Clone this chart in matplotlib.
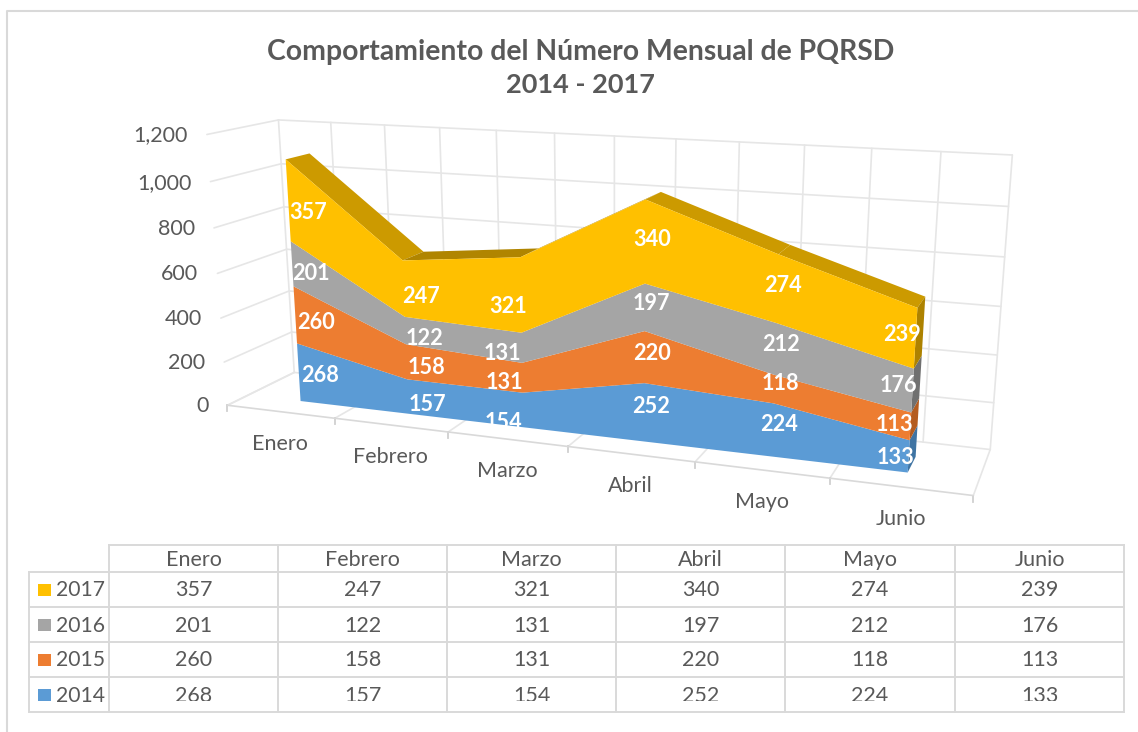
import numpy as np
import matplotlib
matplotlib.use('Agg')
import matplotlib.pyplot as plt
from matplotlib.patches import Polygon, Rectangle

plt.rcParams['font.family'] = ['Lato', 'DejaVu Sans']

months = ['Enero', 'Febrero', 'Marzo', 'Abril', 'Mayo', 'Junio']
years = ['2014', '2015', '2016', '2017']
v2014 = [268, 157, 154, 252, 224, 133]
v2015 = [260, 158, 131, 220, 118, 113]
v2016 = [201, 122, 131, 197, 212, 176]
v2017 = [357, 247, 321, 340, 274, 239]
y_ticks = [0, 200, 400, 600, 800, 1000, 1200]
y_tick_labels = ['0', '200', '400', '600', '800', '1,000', '1,200']

series = [v2014, v2015, v2016, v2017]
colors = ['#5B9BD5', '#ED7D31', '#A5A5A5', '#FFC000']
side_colors = ['#3F74A3', '#B45C20', '#707070', '#AD8200']
top_colors = ['#CC9A00', '#B08500', '#B08500', '#CC9A00', '#CC9A00']
GRID = '#E6E6E6'
TXT = '#595959'
D0, D1 = 0.30, 0.65   # depth of the areas inside the box

# calibration of the 3d view: (category pos, value, depth) -> pixel
world = [(0, 0, 0), (6, 0, 0), (6, 0, 1), (0, 0, 1), (0, 1200, 1), (6, 1200, 1), (0, 1200, 0),
         (.5, 0, D0), (.5, 1086, D0), (5.5, 0, D0), (5.5, 661, D0), (.5, 1086, D1), (5.5, 661, D1)]
pixel = [(228, 405), (973, 497), (990, 450), (294, 373), (277, 120), (1012, 155), (205, 135),
         (300, 400), (287, 160), (908, 472), (917, 307), (312, 153), (926, 296)]


def fit_projection(world, pixel):
    rows = []
    for (x, y, z), (u, v) in zip(world, pixel):
        y = y / 1200
        rows.append([x, y, z, 1, 0, 0, 0, 0, -u * x, -u * y, -u * z, -u])
        rows.append([0, 0, 0, 0, x, y, z, 1, -v * x, -v * y, -v * z, -v])
    return np.linalg.svd(np.array(rows, dtype=float))[2][-1].reshape(3, 4)


P = fit_projection(world, pixel)


def proj(x, y, z):
    h = P @ np.array([x, y / 1200, z, 1.0])
    return h[0] / h[2], h[1] / h[2]


fig = plt.figure(figsize=(11.38, 7.32), dpi=100)
ax = fig.add_axes([0, 0, 1, 1])
ax.set_xlim(0, 1138)
ax.set_ylim(732, 0)
ax.axis('off')


def line3d(a, b, color=GRID, lw=1.2):
    pa, pb = proj(*a), proj(*b)
    ax.plot([pa[0], pb[0]], [pa[1], pb[1]], color=color, lw=lw, solid_capstyle='round', zorder=1)


# frame
ax.plot([7, 7, 1138], [732, 11, 11], color='#D9D9D9', lw=1.5)

# title
ax.text(580.5, 52, 'Comportamiento del Número Mensual de PQRSD', ha='center', va='center',
        fontsize=20.4, fontweight='bold', color=TXT)
ax.text(580.5, 85, '2014 - 2017', ha='center', va='center', fontsize=19.5, fontweight='bold', color=TXT)

# walls
for t in y_ticks:
    line3d((0, t, 0), (0, t, 1))
    line3d((0, t, 1), (6, t, 1))
for k in range(13):
    line3d((k / 2, 0, 1), (k / 2, 1200, 1))
for k in range(7):
    line3d((k, 0, 0), (k, 0, 1))
    px, py = proj(k, 0, 0)
    ax.plot([px, px], [py, py + 6], color='#D0D0D0', lw=1.3, zorder=1)
line3d((0, 0, 0), (6, 0, 0), color='#D9D9D9')

for t, lab in zip(y_ticks, y_tick_labels):
    px, py = proj(0, t, 0)
    ax.text(px - 19, py + 1, lab, ha='right', va='center', fontsize=15.5, color=TXT)
for k, m in enumerate(months):
    px, py = proj(k + .5, 0, 0)
    ax.text(px, py + 32, m, ha='center', va='center', fontsize=15.5, color=TXT)

# stacked areas
xs = [k + .5 for k in range(6)]
stack = np.cumsum(np.array(series), axis=0)
lower = np.vstack([np.zeros(6), stack[:-1]])

for k in range(5):
    face = [proj(xs[k], stack[3][k], D0), proj(xs[k + 1], stack[3][k + 1], D0),
            proj(xs[k + 1], stack[3][k + 1], D1), proj(xs[k], stack[3][k], D1)]
    ax.add_patch(Polygon(face, color=top_colors[k], zorder=2, lw=0))

for s in range(4):
    side = [proj(5.5, lower[s][5], D0), proj(5.5, stack[s][5], D0),
            proj(5.5, stack[s][5], D1), proj(5.5, lower[s][5], D1)]
    ax.add_patch(Polygon(side, color=side_colors[s], zorder=2, lw=0))
    front = [proj(x, v, D0) for x, v in zip(xs, stack[s])]
    front += [proj(x, v, D0) for x, v in zip(xs[::-1], lower[s][::-1])]
    ax.add_patch(Polygon(front, color=colors[s], zorder=3, lw=0))

# data labels, nudged per series / month the way excel placed them
label_dx = [[21, 19, -19, 7, 6, -13],
            [21, 20, -18, 7, 6, -16],
            [19, 19, -19, 7, 6, -14],
            [20, 17, -13, 7, 6, -14]]
label_dy = [[3, 8, 12, -6, -6, 1],
            [7, 6, 5, -4, -6, -2],
            [10, 8, 6, -4, -5, -5],
            [12, 8, 11, -2, -3, -4]]
for s in range(4):
    for k in range(6):
        px, py = proj(xs[k], (stack[s][k] + lower[s][k]) / 2, D0)
        ax.text(px + label_dx[s][k], py + label_dy[s][k], str(series[s][k]), ha='center', va='center',
                fontsize=15.6, fontweight='bold', color='white', zorder=4)

# data table
col_x = [109, 278, 447, 616, 785, 955, 1124]
row_y = [545, 572, 607, 642, 677, 712]
TL = '#D9D9D9'
for x in col_x:
    ax.plot([x, x], [row_y[0], row_y[-1]], color=TL, lw=1.4)
for y in row_y:
    ax.plot([col_x[0], col_x[-1]], [y, y], color=TL, lw=1.4)
for y in row_y[1:]:
    ax.plot([29, col_x[0]], [y, y], color=TL, lw=1.4)
ax.plot([29, 29], [row_y[1], row_y[-1]], color=TL, lw=1.4)

for k, m in enumerate(months):
    ax.text((col_x[k] + col_x[k + 1]) / 2, 559.5, m, ha='center', va='center', fontsize=15.5, color=TXT)
clip = Rectangle((0, 0), 1138, 701, transform=ax.transData)
for r in range(4):
    s = 3 - r
    y = (row_y[r + 1] + row_y[r + 2]) / 2 + 1
    ax.add_patch(Rectangle((38, y - 6.5), 13, 12, color=colors[s], lw=0))
    ax.text(56, y, years[s], ha='left', va='center', fontsize=15.2, color=TXT)
    for k in range(6):
        t = ax.text((col_x[k] + col_x[k + 1]) / 2, y, str(series[s][k]), ha='center', va='center',
                    fontsize=15.5, color=TXT)
        t.set_clip_on(True)
        t.set_clip_path(clip)

fig.savefig('out.png', dpi=100)
